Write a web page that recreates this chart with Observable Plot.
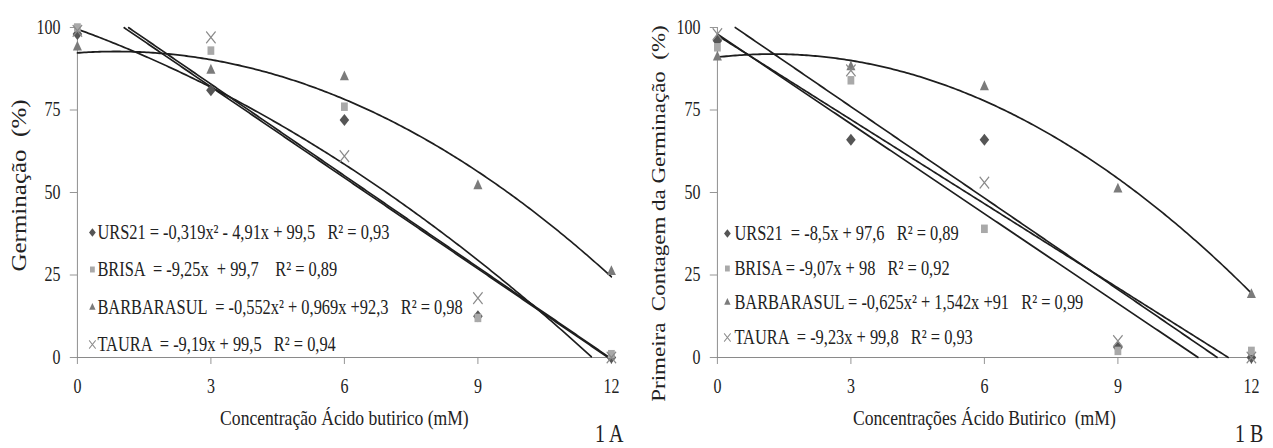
<!DOCTYPE html>
<html><head><meta charset="utf-8">
<script src="https://cdn.jsdelivr.net/npm/d3@7"></script>
<script src="https://cdn.jsdelivr.net/npm/@observablehq/plot@0.6"></script>
<style>
body{margin:0;background:#fff;}
#wrap{display:flex;width:1273px;height:448px;overflow:hidden;}
#wrap svg, #wrap svg text{font-family:"Liberation Serif","Times New Roman",serif !important;}
svg text{white-space:pre;}
</style></head><body><div id="wrap"></div>
<script>
// ---------- data ----------
const concentrations = [0, 3, 6, 9, 12];
const xTicks = [0, 3, 6, 9, 12];
const yTicks = [0, 25, 50, 75, 100];
const cultivars = ["URS21", "BRISA", "BARBARASUL", "TAURA"];

// Panel 1A – Germinação (%)
const germA_URS21 = [98, 81, 72, 12.5, 0];
const germA_BRISA = [100, 93, 76, 12, 1];
const germA_BARBARASUL = [94, 87, 85, 52, 26];
const germA_TAURA = [99, 97, 61, 18, 0];
// fitted curves y = a·x² + b·x + c, drawn over [from, to]
const fitA_coef = [[-0.319, -4.91, 99.5], [0, -9.25, 110.6], [-0.552, 0.969, 92.3], [0, -9.19, 109.6]];
const fitA_span = [[0, 11.55], [1.15, 11.96], [0, 12], [1.05, 11.93]];
const legendA = [
  "URS21 = -0,319x² - 4,91x + 99,5   R² = 0,93",
  "BRISA  = -9,25x  + 99,7    R² = 0,89",
  "BARBARASUL  = -0,552x² + 0,969x +92,3   R² = 0,98",
  "TAURA  = -9,19x + 99,5   R² = 0,94"
];

// Panel 1B – Primeira Contagem da Germinação (%)
const germB_URS21 = [96, 66, 66, 3, 0];
const germB_BRISA = [94, 84, 39, 2, 2];
const germB_BARBARASUL = [91, 88, 82, 51, 19];
const germB_TAURA = [98, 87, 53, 5, 0];
const fitB_coef = [[0, -8.5, 97.6], [0, -9.07, 98], [-0.625, 1.542, 91], [0, -9.23, 103.7]];
const fitB_span = [[0, 11.48], [0, 10.8], [0, 12], [0.4, 11.23]];
const legendB = [
  "URS21  = -8,5x + 97,6   R² = 0,89",
  "BRISA = -9,07x + 98   R² = 0,92",
  "BARBARASUL = -0,625x² + 1,542x +91   R² = 0,99",
  "TAURA  = -9,23x + 99,8   R² = 0,93"
];

// ---------- style ----------
const SX = 0.8; // horizontal compression of the original figure
const symbols = ["diamond2", "square2", "triangle2", "times"];
const colors = ["#555555", "#a9a9a9", "#7b7b7b", "#8a8a8a"];
const ink = "#222";
const axisGray = "#8a8a8a";

function panel(cfg) {
  const W = cfg.width;
  const LW = W / SX;
  const mL = 77 / SX, mR = (W - 611) / SX;
  const series = [cfg.s0, cfg.s1, cfg.s2, cfg.s3];
  const marks = [];
  marks.push(Plot.ruleY([0], {stroke: axisGray, strokeWidth: 1.2}));
  marks.push(Plot.ruleX([0], {y1: 0, y2: 100, stroke: axisGray, strokeWidth: 1.2}));
  marks.push(Plot.axisY({ticks: yTicks, tickSize: 9, tickPadding: 12, stroke: axisGray, fill: ink, fontSize: 20, label: null}));
  marks.push(Plot.axisX({ticks: xTicks, tickSize: 7, tickPadding: 14, stroke: axisGray, fill: ink, fontSize: 20, label: null}));
  // fitted lines
  const fit = [];
  cfg.coef.forEach(([a, b, c], i) => {
    const [x0, x1] = cfg.span[i];
    const xs = d3.range(x0, x1, 0.05).concat([x1]);
    xs.forEach(x => fit.push({s: cultivars[i], x, y: a * x * x + b * x + c}));
  });
  marks.push(Plot.line(fit, {x: "x", y: "y", z: "s", stroke: "#1e1e1e", strokeWidth: 1.8}));
  // observed points
  series.forEach((vals, i) => {
    const pts = concentrations.map((x, j) => ({x, y: vals[j]}));
    const isStroke = symbols[i] === "times";
    marks.push(Plot.dot(pts, {x: "x", y: "y", symbol: symbols[i], r: 5.4,
      ...(isStroke ? {stroke: colors[i], strokeWidth: 1.4, fill: "none"} : {fill: colors[i], stroke: "none"})}));
  });
  // legend inside plot
  cfg.legend.forEach((txt, i) => {
    const dy = cfg.legendY[i] - 27;
    const isStroke = symbols[i] === "times";
    marks.push(Plot.dot([0], {frameAnchor: "top-left", dx: (cfg.legMarkX - 77) / SX, dy, symbol: symbols[i], r: 3.8,
      ...(isStroke ? {stroke: colors[i], strokeWidth: 1.2, fill: "none"} : {fill: colors[i], stroke: "none"})}));
    marks.push(Plot.text([txt], {frameAnchor: "top-left", dx: (cfg.legTextX - 77) / SX, dy, text: d => d,
      textAnchor: "start", lineAnchor: "middle", fontSize: 20.5, fill: ink}));
  });
  // titles
  marks.push(Plot.text([cfg.xTitle], {frameAnchor: "bottom", dy: 60, text: d => d, textAnchor: "middle", lineAnchor: "middle", fontSize: 22, fill: ink}));
  marks.push(Plot.text([cfg.yTitle], {frameAnchor: "left", rotate: -90, dx: (19 - 77) / SX, dy: cfg.yTitleDy, text: d => d, textAnchor: "middle", lineAnchor: "middle", fontSize: cfg.yTitleSize, fill: ink}));
  marks.push(Plot.text([cfg.tag], {frameAnchor: "bottom-right", dx: 15, dy: 76, text: d => d, textAnchor: "end", lineAnchor: "middle", fontSize: 25, fill: ink}));

  const svg = Plot.plot({
    width: LW, height: 448,
    marginLeft: mL, marginRight: mR, marginTop: 27, marginBottom: 91,
    x: {domain: [0, 12]},
    y: {domain: [0, 100]},
    style: {background: "#fff", color: ink, overflow: "visible"},
    marks
  });
  svg.setAttribute("width", W);
  svg.setAttribute("height", 448);
  svg.setAttribute("preserveAspectRatio", "none");
  svg.style.width = W + "px";
  svg.style.height = "448px";
  svg.style.maxWidth = "none";
  svg.style.flex = "none";
  return svg;
}

const wrap = document.getElementById("wrap");
wrap.appendChild(panel({
  width: 640, s0: germA_URS21, s1: germA_BRISA, s2: germA_BARBARASUL, s3: germA_TAURA,
  coef: fitA_coef, span: fitA_span, legend: legendA,
  legendY: [232, 269, 307, 344], legMarkX: 92, legTextX: 97,
  xTitle: "Concentração Ácido butirico (mM)", yTitle: "Germinação  (%)", yTitleDy: -7, yTitleSize: 25, tag: "1 A"
}));
wrap.appendChild(panel({
  width: 633, s0: germB_URS21, s1: germB_BRISA, s2: germB_BARBARASUL, s3: germB_TAURA,
  coef: fitB_coef, span: fitB_span, legend: legendB,
  legendY: [233, 268, 302, 337], legMarkX: 87, legTextX: 94,
  xTitle: "Concentrações Ácido Butirico  (mM)", yTitle: "Primeira  Contagem da Germinação  (%)", yTitleDy: 21, yTitleSize: 23, tag: "1 B"
}));
</script>
</body></html>
